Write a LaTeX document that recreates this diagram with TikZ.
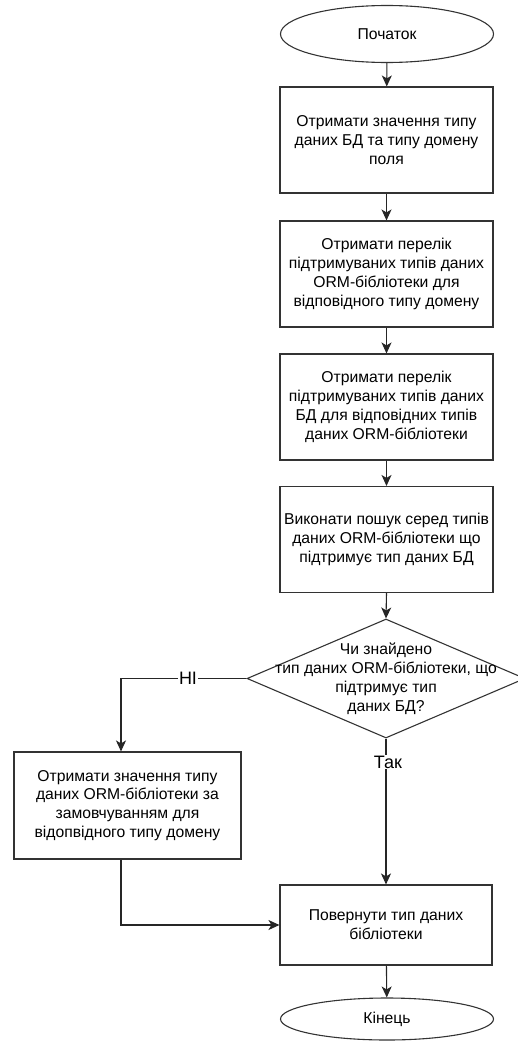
\documentclass[tikz,border=0pt]{standalone}
\usepackage{fontspec}
\setmainfont{Liberation Sans}
\usetikzlibrary{shapes.geometric,arrows.meta}
\tikzset{
  base/.style={font=\fontsize{15.7}{18.8}\selectfont, align=center, line width=1.1pt, draw=black!80},
  stepbox/.style={base, rectangle, minimum width=213pt, minimum height=106pt, inner sep=0pt},
  term/.style={base, ellipse, minimum width=213pt, minimum height=57pt, inner sep=0pt},
  arr/.style={line width=1.1pt, draw=black!85, -{Stealth[length=11pt,width=10pt,inset=3pt]}},
  lbl/.style={font=\fontsize{18}{20}\selectfont, fill=white, inner sep=1pt}
}
\begin{document}
\begin{tikzpicture}[x=1pt,y=-1pt]
\useasboundingbox (0,0) rectangle (517,1041);
\node[term] (start) at (387,34) {Початок};
\node[stepbox] (b1) at (386.5,140) {Отримати значення типу\\даних БД та типу домену\\поля};
\node[stepbox] (b2) at (386.5,274) {Отримати перелік\\підтримуваних типів даних\\ORM-бібліотеки для\\відповідного типу домену};
\node[stepbox] (b3) at (386.5,407) {Отримати перелік\\підтримуваних типів даних\\БД для відповідних типів\\даних ORM-бібліотеки};
\node[stepbox] (b4) at (386.5,539.5) {Виконати пошук серед типів\\даних ORM-бібліотеки що\\підтримує тип даних БД};
\node[base, diamond, minimum width=278pt, minimum height=119pt, shape aspect=2.336, inner sep=0pt] (d) at (386,678.5) {};
\node[font=\fontsize{15.7}{19}\selectfont, align=center] (dt) at (386,679) {Чи знайдено\\тип даних ORM-бібліотеки, що\\підтримує тип\\даних БД?};
\node[stepbox, minimum width=227pt, minimum height=107pt] (lb) at (127.5,805.5) {Отримати значення типу\\даних ORM-бібліотеки за\\замовчуванням для\\відопвідного типу домену};
\node[stepbox, minimum width=212pt, minimum height=80pt] (rb) at (386,925) {Повернути тип даних\\бібліотеки};
\node[term, minimum height=42pt] (end) at (387,1019) {Кінець};
\coordinate (nx) at (121,0);
\draw[arr] (start) -- (b1);
\draw[arr] (b1) -- (b2);
\draw[arr] (b2) -- (b3);
\draw[arr] (b3) -- (b4);
\draw[arr] (b4.south) -- (d.north);
\draw[arr] (d.west) -| (nx |- lb.north);
\node[lbl] (no) at (188,678.5) {НІ};
\draw[arr] (d.south) -- (rb.north);
\node[lbl] (yes) at (388,762) {Так};
\draw[arr] (nx |- lb.south) |- (rb.west);
\draw[arr] (rb) -- (end);
\end{tikzpicture}
\end{document}
